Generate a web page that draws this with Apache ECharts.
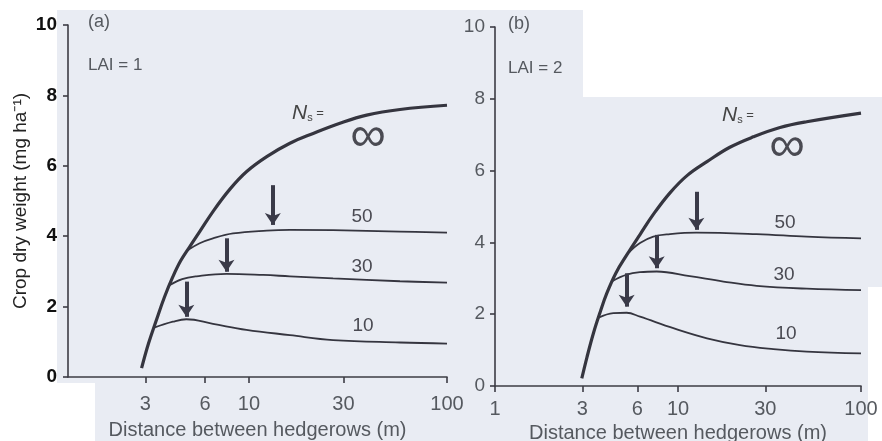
<!DOCTYPE html>
<html>
<head>
<meta charset="utf-8">
<script src="https://cdn.jsdelivr.net/npm/echarts@6.0.0/dist/echarts.min.js"></script>
<style>
html, body { margin: 0; padding: 0; background: #fff; }
#chart { width: 882px; height: 441px; }
</style>
</head>
<body>
<div id="chart"></div>
<script>
// panel (a), LAI = 1 : [distance (m), crop dry weight]
var ticksA = [3, 6, 10, 30, 100];
var infA = [[2.87, 0.25], [3.11, 0.95], [3.41, 1.62], [3.75, 2.28], [4.13, 2.85], [4.52, 3.30], [5.02, 3.70], [5.64, 4.13], [6.58, 4.70], [8.00, 5.33], [9.71, 5.83], [12.3, 6.26], [16.1, 6.64], [21.1, 6.92], [28.8, 7.21], [39.3, 7.44], [57.9, 7.60], [100, 7.72]];
var n50A = [[4.9, 3.60], [5.64, 3.80], [6.58, 3.94], [8.31, 4.08], [12.3, 4.16], [16.1, 4.18], [26.6, 4.17], [57.9, 4.13], [100, 4.10]];
var n30A = [[3.95, 2.60], [4.6, 2.78], [5.43, 2.86], [7.7, 2.93], [11.8, 2.90], [16.1, 2.86], [26.6, 2.80], [57.9, 2.72], [100, 2.68]];
var n10A = [[3.32, 1.40], [4.13, 1.57], [4.83, 1.64], [6.58, 1.51], [9.71, 1.34], [16.1, 1.19], [26.6, 1.05], [57.9, 0.98], [100, 0.95]];
// arrows: [x, top, tip]
var arrowsA = [[13.2, 5.45, 4.32], [7.7, 3.94, 2.99], [4.83, 2.71, 1.71]];

// panel (b), LAI = 2
var ticksB = [1, 3, 6, 10, 30, 100];
var infB = [[2.98, 0.21], [3.18, 0.80], [3.45, 1.47], [3.75, 2.05], [4.08, 2.58], [4.58, 3.15], [5.25, 3.65], [6.20, 4.22], [7.33, 4.78], [9.04, 5.38], [11.2, 5.86], [14.4, 6.25], [19.2, 6.65], [25.8, 6.94], [36.1, 7.20], [50.5, 7.36], [100, 7.60]];
var n50B = [[5.4, 3.72], [6.2, 3.98], [7.33, 4.16], [9.04, 4.23], [12.6, 4.27], [26.9, 4.23], [50.5, 4.16], [100, 4.11]];
var n30B = [[4.37, 2.92], [5.25, 3.10], [6.2, 3.17], [7.65, 3.19], [11.6, 3.06], [17.7, 2.91], [26.9, 2.79], [50.5, 2.71], [100, 2.67]];
var n10B = [[3.68, 1.90], [4.43, 2.03], [5.24, 2.04], [6.2, 1.93], [9.43, 1.61], [14.4, 1.33], [21.8, 1.14], [33.2, 1.03], [50.5, 0.96], [100, 0.91]];
var arrowsB = [[12.6, 5.41, 4.35], [7.65, 4.21, 3.28], [5.24, 3.14, 2.21]];

var FONT = 'Liberation Sans';
var INK = '#35353f';
var GREY = '#55595f';

function arrowLines(list) {
    return list.map(function (a) {
        return [{ coord: [a[0], a[1]] }, { coord: [a[0], a[2]] }];
    });
}

function curve(data, xi, width, arrows) {
    var s = {
        type: 'line',
        xAxisIndex: xi,
        yAxisIndex: xi,
        data: data,
        showSymbol: false,
        smooth: 0.4,
        silent: true,
        lineStyle: { color: INK, width: width }
    };
    if (arrows) {
        s.markLine = {
            silent: true,
            symbol: ['none', 'arrow'],
            symbolSize: [12, 12],
            label: { show: false },
            lineStyle: { color: '#3a3a48', width: 4, type: 'solid' },
            data: arrowLines(arrows)
        };
    }
    return s;
}

function xAxis(idx, min, ticks, margin, gap) {
    return {
        type: 'log',
        logBase: 10,
        gridIndex: idx,
        min: min,
        max: 100,
        axisLine: { lineStyle: { color: '#3c3c44', width: 1.6 } },
        axisTick: { show: true, customValues: ticks, length: 6, lineStyle: { color: '#3c3c44', width: 1.6 } },
        axisLabel: { customValues: ticks, color: GREY, fontSize: 20, fontFamily: FONT, margin: margin },
        splitLine: { show: false },
        minorTick: { show: false },
        name: 'Distance between hedgerows (m)',
        nameLocation: 'middle',
        nameGap: gap,
        nameTextStyle: { color: GREY, fontSize: 20, fontFamily: FONT }
    };
}

function yAxis(idx, labelStyle) {
    return {
        type: 'value',
        gridIndex: idx,
        min: 0,
        max: 10,
        interval: 2,
        axisLine: { show: true, lineStyle: { color: '#3c3c44', width: 1.6 } },
        axisTick: { show: true, length: 5, lineStyle: { color: '#3c3c44', width: 1.6 } },
        axisLabel: labelStyle,
        splitLine: { show: false }
    };
}

function txt(x, y, text, size, color, extra) {
    var style = { text: text, fill: color, font: size + 'px "' + FONT + '"', textAlign: 'center', textVerticalAlign: 'middle' };
    for (var k in extra) style[k] = extra[k];
    return { type: 'text', x: x, y: y, z: 100, style: style };
}

function nsLabel(x, y) {
    return {
        type: 'text', x: x, y: y, z: 100,
        style: {
            text: '{n|N}{s|s}{e| =}',
            textVerticalAlign: 'middle',
            rich: {
                n: { fontSize: 21, fontStyle: 'italic', fontFamily: FONT, fill: '#444' },
                s: { fontSize: 11, fontFamily: FONT, fill: '#444', padding: [10, 0, 0, 0] },
                e: { fontSize: 13, fontFamily: FONT, fill: '#444' }
            }
        }
    };
}

var chart = echarts.init(document.getElementById('chart'));
chart.setOption({
    animation: false,
    backgroundColor: '#ffffff',
    grid: [
        { left: 68, right: 435, top: 25, bottom: 64, outerBoundsMode: 'none' },
        { left: 495, right: 21, top: 27, bottom: 55, outerBoundsMode: 'none' }
    ],
    xAxis: [
        xAxis(0, 1.22, ticksA, 17, 43),
        xAxis(1, 1, ticksB, 13, 36)
    ],
    yAxis: [
        (function () {
            var a = yAxis(0, { color: '#111', fontSize: 19, fontWeight: 'bold', fontFamily: FONT, margin: 11 });
            a.name = 'Crop dry weight (mg ha\u207B\u00B9)';
            a.nameLocation = 'middle';
            a.nameGap = 38;
            a.nameTextStyle = { color: '#222', fontSize: 19, fontFamily: FONT };
            return a;
        })(),
        yAxis(1, { color: GREY, fontSize: 19, fontFamily: FONT, margin: 10 })
    ],
    graphic: [
        { type: 'rect', z: -100, shape: { x: 57, y: 10, width: 825, height: 431 }, style: { fill: '#e9ecf3' } },
        { type: 'rect', z: -99, shape: { x: 57, y: 383, width: 38, height: 58 }, style: { fill: '#ffffff' } },
        { type: 'rect', z: -99, shape: { x: 583, y: 0, width: 299, height: 97 }, style: { fill: '#ffffff' } },
        { type: 'rect', z: -99, shape: { x: 868, y: 287, width: 14, height: 154 }, style: { fill: '#ffffff' } },
        txt(88, 22, '(a)', 18, GREY, { textAlign: 'left' }),
        txt(88, 65, 'LAI = 1', 17, GREY, { textAlign: 'left' }),
        txt(508, 24, '(b)', 18, GREY, { textAlign: 'left' }),
        txt(508, 68, 'LAI = 2', 17, GREY, { textAlign: 'left' }),
        nsLabel(292, 113),
        txt(368, 137, '\u221E', 50, '#4a4a52'),
        txt(362, 217, '50', 19, '#4a4a52'),
        txt(362, 267, '30', 19, '#4a4a52'),
        txt(363, 326, '10', 19, '#4a4a52'),
        nsLabel(722, 115),
        txt(787, 147, '\u221E', 50, '#4a4a52'),
        txt(785, 223, '50', 19, '#4a4a52'),
        txt(784, 275, '30', 19, '#4a4a52'),
        txt(786, 334, '10', 19, '#4a4a52')
    ],
    series: [
        curve(infA, 0, 3.2, arrowsA),
        curve(n50A, 0, 1.8),
        curve(n30A, 0, 1.8),
        curve(n10A, 0, 1.8),
        curve(infB, 1, 3.2, arrowsB),
        curve(n50B, 1, 1.8),
        curve(n30B, 1, 1.8),
        curve(n10B, 1, 1.8)
    ]
});
</script>
</body>
</html>
